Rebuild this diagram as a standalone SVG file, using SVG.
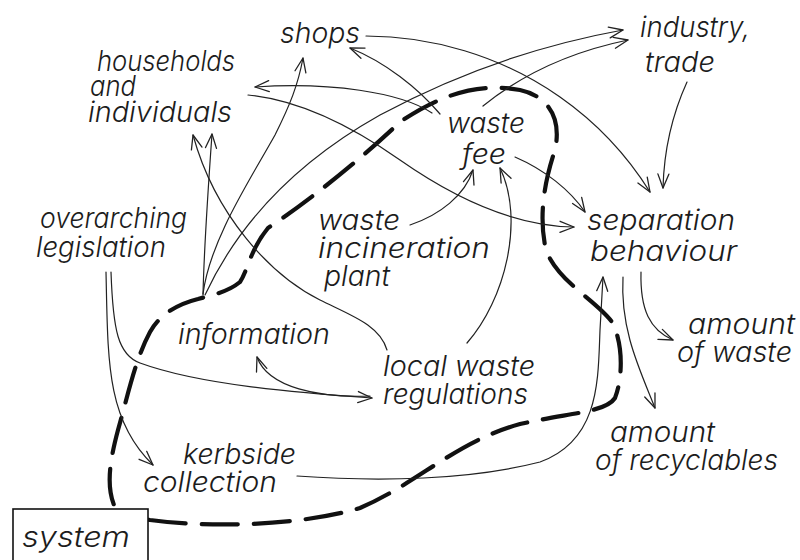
<svg xmlns="http://www.w3.org/2000/svg" width="800" height="560" viewBox="0 0 800 560">
  <style>
    .lbl { font-family: "Inter", "Liberation Sans", sans-serif; font-weight: 300; font-style: italic; font-size: 28px; fill: #1c1c1c; }
    .conn { fill: none; stroke: #222; stroke-width: 1.2; stroke-linecap: round; }
    .boundary { fill: none; stroke: #111; stroke-width: 4.2; stroke-linecap: round; stroke-dasharray: 36 16; }
  </style>
  <defs>
    <marker id="arrow" markerUnits="userSpaceOnUse" markerWidth="18" markerHeight="14" refX="15" refY="7" orient="auto">
      <path d="M1,1.5 L15,7 L1,12.5" fill="none" stroke="#222" stroke-width="1.3" stroke-linecap="round" stroke-linejoin="round"/>
    </marker>
  </defs>
  <rect width="800" height="560" fill="#fff"/>

  <!-- system boundary -->
  <path class="boundary" d="M150,520 C 210,528 300,526 360,508 C 420,482 455,442 520,424 C 575,412 606,412 615,398 C 624,375 622,340 612,322 C 596,300 558,282 546,250 C 538,215 545,180 555,150 C 562,118 548,96 520,90 C 478,82 440,95 400,122 C 360,160 310,200 268,228 C 250,250 248,270 240,282 C 228,292 212,295 198,299 C 178,304 160,314 150,332 C 135,360 128,395 118,430 C 110,460 106,485 114,505 L 120,515 Z"/>

  <g id="connectors">
    <!-- from information -->
    <path class="conn" marker-end="url(#arrow)" d="M203,295 C 204,250 208,190 212,134"/>
    <path class="conn" marker-end="url(#arrow)" d="M203,294 C 210,240 250,180 275,135 C 290,105 298,85 303,58"/>
    <path class="conn" marker-end="url(#arrow)" d="M205,295 C 240,220 300,160 380,115 C 460,72 540,45 623,30"/>
    <!-- from local waste regulations -->
    <path class="conn" marker-end="url(#arrow)" d="M387,350 C 380,325 350,315 320,300 C 270,275 215,215 193,135"/>
    <path class="conn" marker-end="url(#arrow)" d="M467,343 C 505,300 525,220 500,168"/>
    <path class="conn" marker-end="url(#arrow)" d="M370,396 C 320,398 268,388 257,357"/>
    <!-- from waste fee -->
    <path class="conn" marker-end="url(#arrow)" d="M483,106 C 520,76 570,52 628,40"/>
    <path class="conn" marker-end="url(#arrow)" d="M440,114 C 418,88 385,62 350,48"/>
    <path class="conn" marker-end="url(#arrow)" d="M432,113 C 400,92 330,82 255,87"/>
    <path class="conn" marker-end="url(#arrow)" d="M515,157 C 545,170 570,190 585,212"/>
    <!-- from shops -->
    <path class="conn" marker-end="url(#arrow)" d="M366,36 C 430,36 500,55 560,97 C 600,125 630,160 650,192"/>
    <!-- from households and individuals -->
    <path class="conn" marker-end="url(#arrow)" d="M248,95 C 300,100 350,125 400,160 C 450,195 510,226 574,227"/>
    <!-- from waste incineration plant -->
    <path class="conn" marker-end="url(#arrow)" d="M410,225 C 440,215 465,195 473,170"/>
    <!-- from overarching legislation -->
    <path class="conn" marker-end="url(#arrow)" d="M111,272 C 113,330 118,355 140,363 C 200,385 300,393 372,398"/>
    <path class="conn" marker-end="url(#arrow)" d="M106,272 C 108,360 106,420 153,465"/>
    <!-- from kerbside collection -->
    <path class="conn" marker-end="url(#arrow)" d="M297,476 C 380,482 470,480 540,462 C 600,440 598,380 600,330 L 603,277"/>
    <!-- from industry, trade -->
    <path class="conn" marker-end="url(#arrow)" d="M687,82 C 672,115 664,150 663,188"/>
    <!-- from separation behaviour -->
    <path class="conn" marker-end="url(#arrow)" d="M641,272 C 640,310 650,330 673,340"/>
    <path class="conn" marker-end="url(#arrow)" d="M623,277 C 620,330 640,370 655,408"/>
  </g>

  <g id="shops"><text class="lbl" x="280" y="43" textLength="80" lengthAdjust="spacingAndGlyphs">shops</text></g>
  <g id="households">
    <text class="lbl" x="97" y="71" textLength="138" lengthAdjust="spacingAndGlyphs">households</text>
    <text class="lbl" x="90" y="96" textLength="46" lengthAdjust="spacingAndGlyphs">and</text>
    <text class="lbl" x="88" y="122" textLength="144" lengthAdjust="spacingAndGlyphs">individuals</text>
  </g>
  <g id="industry">
    <text class="lbl" x="640" y="37" textLength="110" lengthAdjust="spacingAndGlyphs">industry,</text>
    <text class="lbl" x="645" y="72" textLength="70" lengthAdjust="spacingAndGlyphs">trade</text>
  </g>
  <g id="waste-fee">
    <text class="lbl" x="447" y="133" textLength="78" lengthAdjust="spacingAndGlyphs">waste</text>
    <text class="lbl" x="462" y="164" textLength="44" lengthAdjust="spacingAndGlyphs">fee</text>
  </g>
  <g id="legislation">
    <text class="lbl" x="40" y="228" textLength="147" lengthAdjust="spacingAndGlyphs">overarching</text>
    <text class="lbl" x="36" y="257" textLength="130" lengthAdjust="spacingAndGlyphs">legislation</text>
  </g>
  <g id="incineration">
    <text class="lbl" x="318" y="230" textLength="82" lengthAdjust="spacingAndGlyphs">waste</text>
    <text class="lbl" x="318" y="258" textLength="172" lengthAdjust="spacingAndGlyphs">incineration</text>
    <text class="lbl" x="324" y="286" textLength="66" lengthAdjust="spacingAndGlyphs">plant</text>
  </g>
  <g id="separation">
    <text class="lbl" x="587" y="230" textLength="148" lengthAdjust="spacingAndGlyphs">separation</text>
    <text class="lbl" x="590" y="261" textLength="147" lengthAdjust="spacingAndGlyphs">behaviour</text>
  </g>
  <g id="information"><text class="lbl" x="178" y="344" textLength="152" lengthAdjust="spacingAndGlyphs">information</text></g>
  <g id="local-waste">
    <text class="lbl" x="383" y="376" textLength="152" lengthAdjust="spacingAndGlyphs">local waste</text>
    <text class="lbl" x="383" y="404" textLength="145" lengthAdjust="spacingAndGlyphs">regulations</text>
  </g>
  <g id="amount-waste">
    <text class="lbl" x="688" y="334" textLength="107" lengthAdjust="spacingAndGlyphs">amount</text>
    <text class="lbl" x="677" y="362" textLength="115" lengthAdjust="spacingAndGlyphs">of waste</text>
  </g>
  <g id="amount-recyclables">
    <text class="lbl" x="610" y="442" textLength="105" lengthAdjust="spacingAndGlyphs">amount</text>
    <text class="lbl" x="595" y="470" textLength="183" lengthAdjust="spacingAndGlyphs">of recyclables</text>
  </g>
  <g id="kerbside">
    <text class="lbl" x="183" y="464" textLength="113" lengthAdjust="spacingAndGlyphs">kerbside</text>
    <text class="lbl" x="143" y="492" textLength="134" lengthAdjust="spacingAndGlyphs">collection</text>
  </g>
  <g id="system">
    <rect x="13" y="509" width="135" height="60" fill="#fff" stroke="#111" stroke-width="1.6"/>
    <text class="lbl" x="22" y="547" textLength="108" lengthAdjust="spacingAndGlyphs">system</text>
  </g>
</svg>
